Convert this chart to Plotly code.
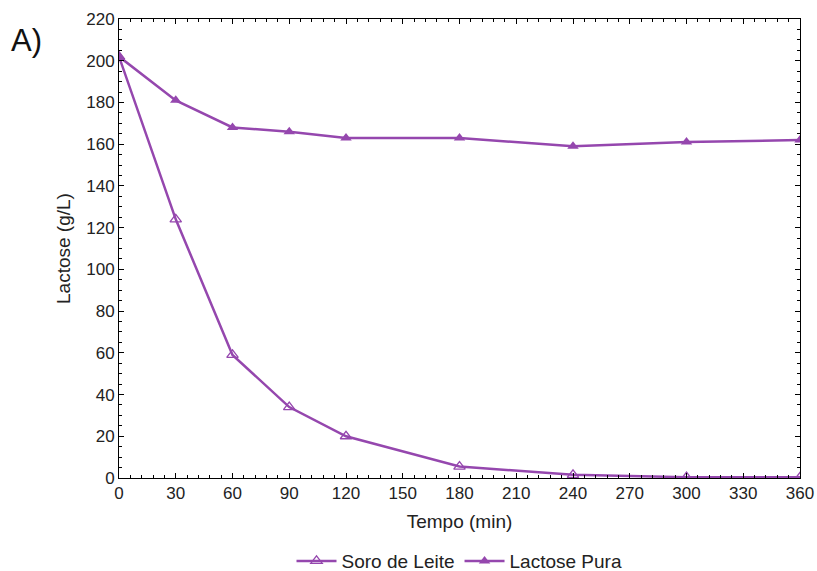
import plotly.graph_objects as go

tempo = [0, 30, 60, 90, 120, 180, 240, 300, 360]
soro_de_leite = [202, 124, 59, 34, 20, 5.5, 1.5, 0.4, 0.3]
lactose_pura = [202, 181, 168, 166, 163, 163, 159, 161, 162]

x_ticks = list(range(0, 361, 30))
y_ticks = list(range(0, 221, 20))

color = "#9547AE"

fig = go.Figure()
fig.add_trace(go.Scatter(
    x=tempo, y=soro_de_leite, name="Soro de Leite", mode="lines+markers",
    line=dict(color=color, width=2.5),
    marker=dict(symbol="triangle-up-open", size=10, color=color, line=dict(width=1.3)),
))
fig.add_trace(go.Scatter(
    x=tempo, y=lactose_pura, name="Lactose Pura", mode="lines+markers",
    line=dict(color=color, width=2.5),
    marker=dict(symbol="triangle-up", size=10, color=color),
))

font_family = "Liberation Sans, Arial, sans-serif"
fig.update_layout(
    width=817, height=571,
    margin=dict(l=119, r=17, t=19, b=93, autoexpand=False),
    paper_bgcolor="white", plot_bgcolor="white",
    font=dict(family=font_family, size=17, color="#222"),
    showlegend=True,
    legend=dict(orientation="h", x=0.5, xanchor="center", y=-0.181, yanchor="middle",
                font=dict(size=19), itemwidth=40, tracegroupgap=0),
    xaxis=dict(
        range=[0, 360], tickvals=x_ticks, ticktext=[str(v) for v in x_ticks],
        showgrid=False, zeroline=False, showline=True, linecolor="black", linewidth=1,
        mirror="ticks", ticks="inside", ticklen=5, tickcolor="black",
        minor=dict(dtick=6, ticks="inside", ticklen=3, tickcolor="black"),
        title=dict(text="Tempo (min)", font=dict(size=19), standoff=12),
        tickfont=dict(size=17),
    ),
    yaxis=dict(
        range=[0, 220], tickvals=y_ticks, ticktext=[str(v) for v in y_ticks],
        showgrid=False, zeroline=False, showline=True, linecolor="black", linewidth=1,
        mirror="ticks", ticks="inside", ticklen=5, tickcolor="black",
        minor=dict(dtick=5, ticks="inside", ticklen=3, tickcolor="black"),
        title=dict(text="Lactose (g/L)", font=dict(size=19), standoff=10),
        tickfont=dict(size=17),
    ),
    annotations=[dict(text="A)", x=-0.162, y=0.954, xref="paper", yref="paper",
                      xanchor="left", yanchor="middle",
                      showarrow=False, font=dict(size=31, color="#111"))],
)

fig.write_html("out.html", config={"displayModeBar": False},
               post_script="document.body.style.margin='0';document.body.style.overflow='hidden';")
